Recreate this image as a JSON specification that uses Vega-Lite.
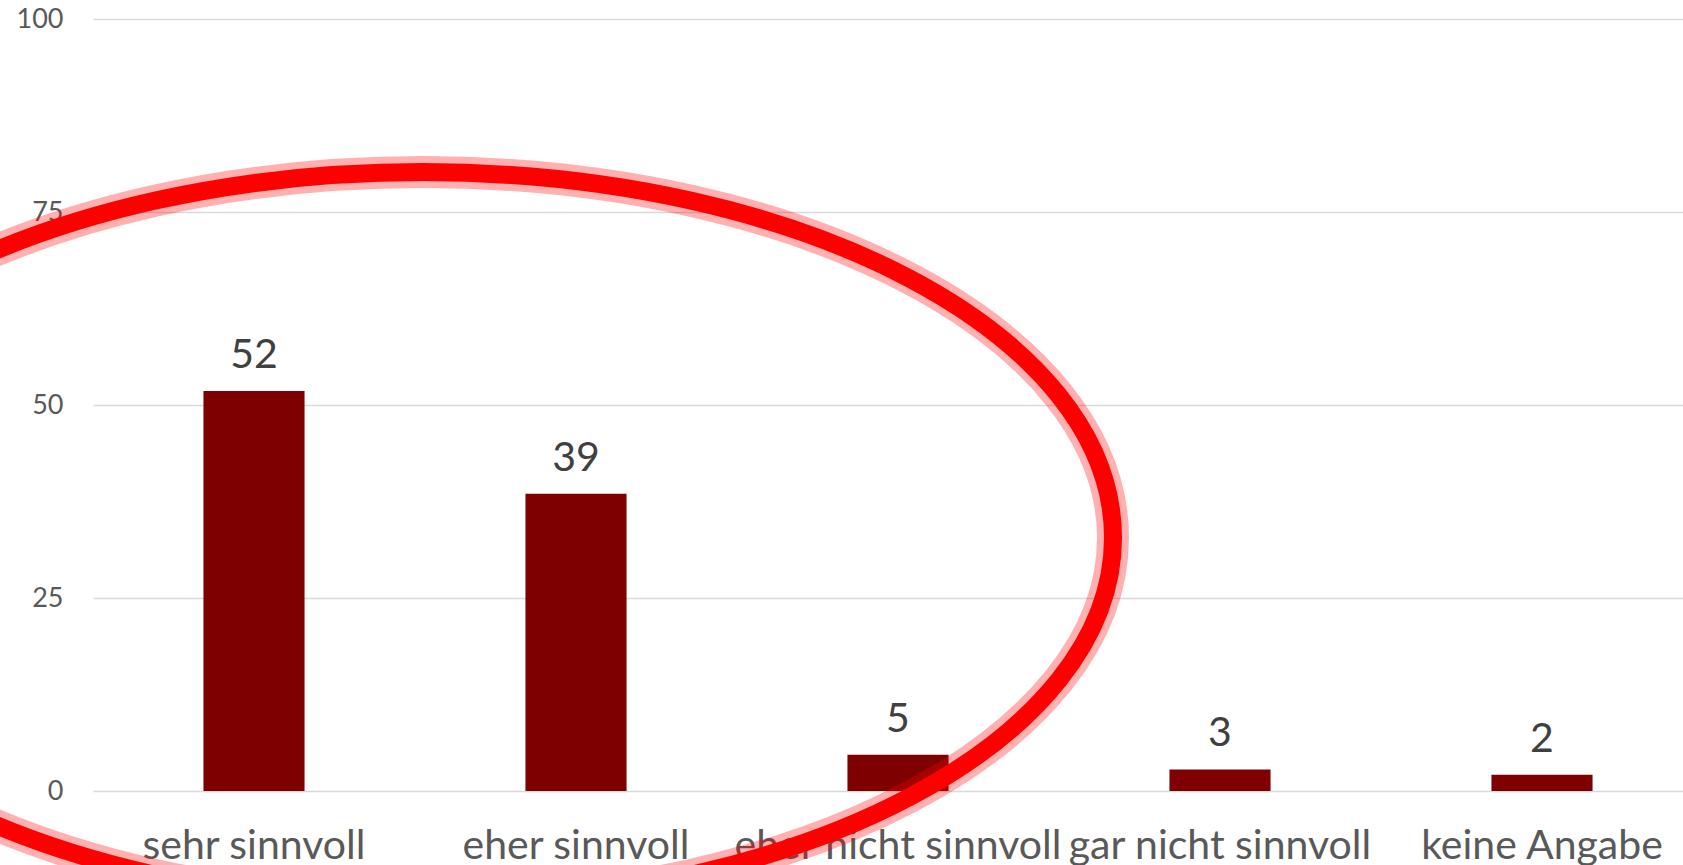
{
  "$schema": "https://vega.github.io/schema/vega-lite/v6.json",
  "width": 1610,
  "height": 772,
  "autosize": {"type": "none"},
  "padding": {"left": 93, "top": 19, "right": 0, "bottom": 74},
  "background": "white",
  "config": {"view": {"stroke": null}, "font": "Lato"},
  "datasets": {
    "bars": [
      {"category": "sehr sinnvoll", "value": 51.8, "label": "52"},
      {"category": "eher sinnvoll", "value": 38.5, "label": "39"},
      {"category": "eher nicht sinnvoll", "value": 4.7, "label": "5"},
      {"category": "gar nicht sinnvoll", "value": 2.8, "label": "3"},
      {"category": "keine Angabe", "value": 2.1, "label": "2"}
    ],
    "mark": [
      {"category": "sehr sinnvoll", "value": 32.8}
    ]
  },
  "encoding": {
    "x": {
      "field": "category",
      "type": "nominal",
      "sort": null,
      "scale": {"paddingInner": 0.686, "paddingOuter": 0.343},
      "axis": {
        "title": null,
        "labelAngle": 0,
        "labelFontSize": 41,
        "labelColor": "#595959",
        "labelPadding": 35,
        "ticks": false,
        "tickSize": 0,
        "domain": false,
        "labelLimit": 0,
        "labelOverlap": false,
        "grid": false
      }
    },
    "y": {
      "field": "value",
      "type": "quantitative",
      "scale": {"domain": [0, 100], "nice": false},
      "axis": {
        "values": [0, 25, 50, 75, 100],
        "title": null,
        "labelFontSize": 27,
        "labelColor": "#595959",
        "labelPadding": 30,
        "domain": false,
        "ticks": false,
        "tickSize": 0,
        "gridColor": "#d9d9d9",
        "gridWidth": 1.5
      }
    }
  },
  "layer": [
    {
      "data": {"name": "bars"},
      "mark": {"type": "bar", "color": "#7f0000"}
    },
    {
      "data": {"name": "bars"},
      "mark": {"type": "text", "baseline": "alphabetic", "dy": -23, "fontSize": 41, "color": "#404040"},
      "encoding": {"text": {"field": "label"}}
    },
    {
      "data": {"name": "mark"},
      "mark": {
        "type": "point",
        "shape": "M 1 0 C 1 0.2927 0.5523 0.530 0 0.530 C -0.5523 0.530 -1 0.2927 -1 0 C -1 -0.2927 -0.5523 -0.530 0 -0.530 C 0.5523 -0.530 1 -0.2927 1 0 Z",
        "size": 1904400,
        "filled": false,
        "stroke": "#ff0000",
        "strokeWidth": 32,
        "opacity": 0.3,
        "xOffset": 169
      }
    },
    {
      "data": {"name": "mark"},
      "mark": {
        "type": "point",
        "shape": "M 1 0 C 1 0.2927 0.5523 0.530 0 0.530 C -0.5523 0.530 -1 0.2927 -1 0 C -1 -0.2927 -0.5523 -0.530 0 -0.530 C 0.5523 -0.530 1 -0.2927 1 0 Z",
        "size": 1904400,
        "filled": false,
        "stroke": "#ff0000",
        "strokeWidth": 18,
        "opacity": 1,
        "xOffset": 169
      }
    }
  ]
}
